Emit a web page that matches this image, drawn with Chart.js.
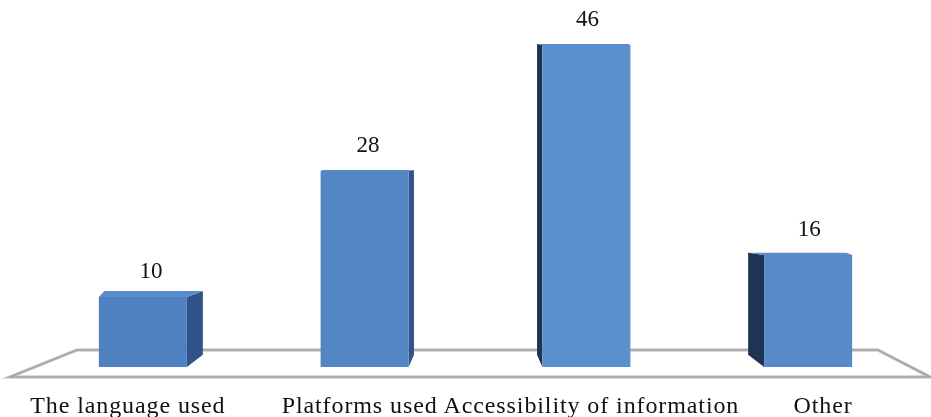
<!DOCTYPE html>
<html>
<head>
<meta charset="utf-8">
<script src="https://cdn.jsdelivr.net/npm/chart.js@4.4.1/dist/chart.umd.min.js"></script>
<style>
  html, body { margin: 0; padding: 0; background: #fff; }
  #wrap { width: 931px; height: 417px; }
</style>
</head>
<body>
<div id="wrap"><canvas id="chart" width="931" height="417"></canvas></div>
<script>
// Data
const categories = ["The language used", "Platforms used", "Accessibility of information", "Other"];
const counts = [10, 28, 46, 16];
const axisMax = 50;

// Front face shades, lighter toward the middle/right
const frontShades = ["#4f80bf", "#5385c5", "#5b90cf", "#5889c8"];

const serif = '"Liberation Serif", "Times New Roman", serif';

// how far the back of a bar sits from its front, leaning toward the middle
const depthAt = (chart, x, y) => {
    const mid = (chart.chartArea.left + chart.chartArea.right) / 2;
    return {dx: -(x - mid) * 0.048, dy: -Math.max(1, (y - 230) * 0.09)};
};

// Floor
const floorPlugin = {
    id: "floor",
    beforeDatasetsDraw(chart) {
        const {ctx, chartArea: a, scales: {y}} = chart;
        const zero = y.getPixelForValue(0);
        const back = zero - 17, front = zero + 10;
        const pts = [
            [a.left + 45, back], [a.right - 41, back],
            [a.right + 11, front], [a.left - 22, front]
        ];
        ctx.save();
        ctx.beginPath();
        pts.forEach((p, i) => i ? ctx.lineTo(p[0], p[1]) : ctx.moveTo(p[0], p[1]));
        ctx.closePath();
        ctx.fillStyle = "#ffffff";
        ctx.fill();
        ctx.strokeStyle = "#cfcfcf";
        ctx.lineWidth = 3.5;
        ctx.stroke();
        ctx.strokeStyle = "#a2a2a2";
        ctx.lineWidth = 1.6;
        ctx.stroke();
        ctx.restore();
    }
};

// Side and top faces of the bars, drawn before the front faces
const depthPlugin = {
    id: "depth",
    beforeDatasetsDraw(chart) {
        const {ctx} = chart;
        const meta = chart.getDatasetMeta(0);
        ctx.save();
        meta.data.forEach(bar => {
            const L = bar.x - bar.width / 2, R = bar.x + bar.width / 2;
            const T = bar.y, B = bar.base;
            const top = depthAt(chart, bar.x, T);
            const bot = depthAt(chart, bar.x, B);
            const dx = top.dx;
            const toRight = dx > 0;
            const near = dx, far = dx * 0.35;
            const dxL = toRight ? far : near;
            const dxR = toRight ? near : far;

            // side face
            ctx.beginPath();
            if (toRight) {
                ctx.moveTo(R, T);
                ctx.lineTo(R + dxR, T + top.dy);
                ctx.lineTo(R + dxR, B + bot.dy);
                ctx.lineTo(R, B);
                ctx.fillStyle = "#30548a";
            } else {
                ctx.moveTo(L, T);
                ctx.lineTo(L + dxL, T + top.dy);
                ctx.lineTo(L + dxL, B + bot.dy);
                ctx.lineTo(L, B);
                ctx.fillStyle = "#1f3452";
            }
            ctx.closePath();
            ctx.fill();

            // top face
            ctx.beginPath();
            ctx.moveTo(L, T);
            ctx.lineTo(L + dxL, T + top.dy);
            ctx.lineTo(R + dxR, T + top.dy);
            ctx.lineTo(R, T);
            ctx.closePath();
            ctx.fillStyle = "#5a8ccc";
            ctx.fill();
        });
        ctx.restore();
    }
};

// Value labels above the bars and category names under the floor
const labelPlugin = {
    id: "labels",
    afterDraw(chart) {
        const {ctx, chartArea: a, scales: {x, y}} = chart;
        const meta = chart.getDatasetMeta(0);
        const mid = (a.left + a.right) / 2;
        ctx.save();
        ctx.fillStyle = "#111111";
        ctx.textAlign = "center";
        ctx.textBaseline = "alphabetic";

        ctx.font = "23px " + serif;
        meta.data.forEach((bar, i) => {
            const d = depthAt(chart, bar.x, bar.y);
            ctx.fillText(String(counts[i]), bar.x + Math.max(0, d.dx) * 0.45 + 1, bar.y - 19);
        });

        ctx.font = "24px " + serif;
        ctx.letterSpacing = "0.9px";
        categories.forEach((c, i) => {
            const cx = x.getPixelForValue(i);
            ctx.fillText(c, cx + (cx - mid) * 0.045, y.getPixelForValue(0) + 46);
        });
        ctx.restore();
    }
};

new Chart(document.querySelector("#chart"), {
    type: "bar",
    data: {
        labels: categories,
        datasets: [{
            data: counts,
            backgroundColor: frontShades,
            borderWidth: 0,
            categoryPercentage: 1,
            barPercentage: 0.397
        }]
    },
    options: {
        responsive: false,
        animation: false,
        layout: {padding: {left: 32, right: 12, top: 17, bottom: 50}},
        plugins: {legend: {display: false}, tooltip: {enabled: false}},
        scales: {
            x: {display: false},
            y: {display: false, min: 0, max: axisMax}
        }
    },
    plugins: [floorPlugin, depthPlugin, labelPlugin]
});
</script>
</body>
</html>
